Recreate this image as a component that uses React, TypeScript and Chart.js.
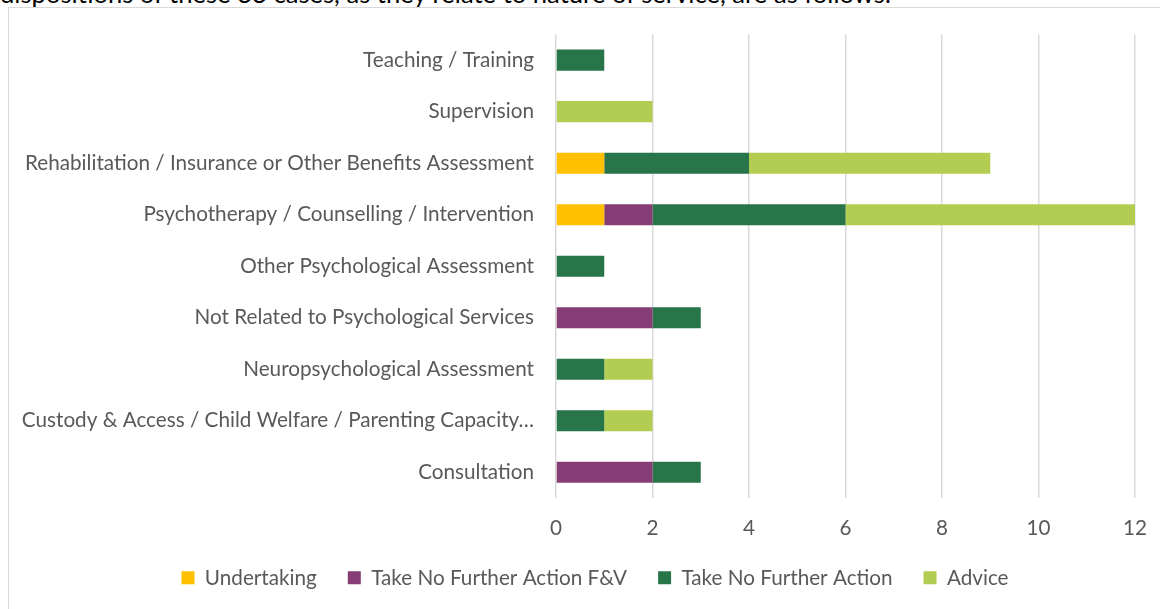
import React, { useEffect, useRef } from "react";
import { Chart, registerables } from "chart.js";
Chart.register(...registerables);

const FONT = "Lato, 'Open Sans', sans-serif";
const TEXT_COLOR = "#595959";

const categories = [
  "Teaching / Training",
  "Supervision",
  "Rehabilitation / Insurance or Other Benefits Assessment",
  "Psychotherapy / Counselling / Intervention",
  "Other Psychological Assessment",
  "Not Related to Psychological Services",
  "Neuropsychological Assessment",
  "Custody & Access / Child Welfare / Parenting Capacity…",
  "Consultation",
];
const undertaking = [0, 0, 1, 1, 0, 0, 0, 0, 0];
const takeNoFurtherActionFV = [0, 0, 0, 1, 0, 2, 0, 0, 2];
const takeNoFurtherAction = [1, 0, 3, 4, 1, 1, 1, 1, 1];
const advice = [0, 2, 5, 6, 0, 0, 1, 1, 0];
const xTicks = [0, 2, 4, 6, 8, 10, 12];

export default function App() {
  const ref = useRef<HTMLCanvasElement>(null);
  useEffect(() => {
    const font = { family: FONT, size: 20.7 };
    const chart = new Chart(ref.current!, {
      type: "bar",
      data: {
        labels: categories,
        datasets: [
          { label: "Undertaking", data: undertaking, backgroundColor: "#FFC000" },
          { label: "Take No Further Action F&V", data: takeNoFurtherActionFV, backgroundColor: "#863C74" },
          { label: "Take No Further Action", data: takeNoFurtherAction, backgroundColor: "#277549" },
          { label: "Advice", data: advice, backgroundColor: "#B3CC52" },
        ],
      },
      options: {
        indexAxis: "y",
        animation: false,
        responsive: false,
        devicePixelRatio: 1,
        datasets: { bar: { barPercentage: 0.41, categoryPercentage: 1, borderWidth: 0 } },
        layout: { padding: { top: 33, right: 0, bottom: 10.8, left: 0 } },
        scales: {
          x: {
            stacked: true,
            min: xTicks[0],
            max: xTicks[xTicks.length - 1],
            ticks: { stepSize: 2, padding: 17.65, color: TEXT_COLOR, font },
            grid: { color: "#d9d9d9", lineWidth: 1.5, drawTicks: false },
            border: { display: false },
            afterFit: (s: any) => { s.height = 38.5; s.paddingRight = 55; },
          },
          y: {
            stacked: true,
            ticks: { padding: 22, color: TEXT_COLOR, font, autoSkip: false },
            grid: { display: false, drawTicks: false },
            border: { display: false },
            afterFit: (s: any) => { s.width = 556; },
          },
        },
        plugins: {
          legend: {
            position: "bottom",
            labels: { boxWidth: 13, boxHeight: 13, padding: 31, color: TEXT_COLOR, font },
          },
          tooltip: { enabled: false },
        },
      },
    });
    return () => chart.destroy();
  }, []);
  return (
    <div style={{ position: "fixed", left: 0, top: 0, width: 1160, height: 609, overflow: "hidden", background: "#fff" }}>
      <div style={{ position: "absolute", left: 0, top: -19.4, fontFamily: FONT, fontSize: 25.6, lineHeight: "25.6px", whiteSpace: "nowrap", color: "#000" }}>
        dispositions of these 33 cases, as they relate to nature of service, are as follows:
      </div>
      <div style={{ position: "absolute", left: 8, top: 7, width: 1200, height: 700, border: "1px solid #d9d9d9" }} />
      <div style={{ position: "absolute", left: 0, top: 0, width: 1190, height: 609 }}>
        <canvas ref={ref} width={1190} height={609} style={{ width: 1190, height: 609, display: "block" }} />
      </div>
    </div>
  );
}
